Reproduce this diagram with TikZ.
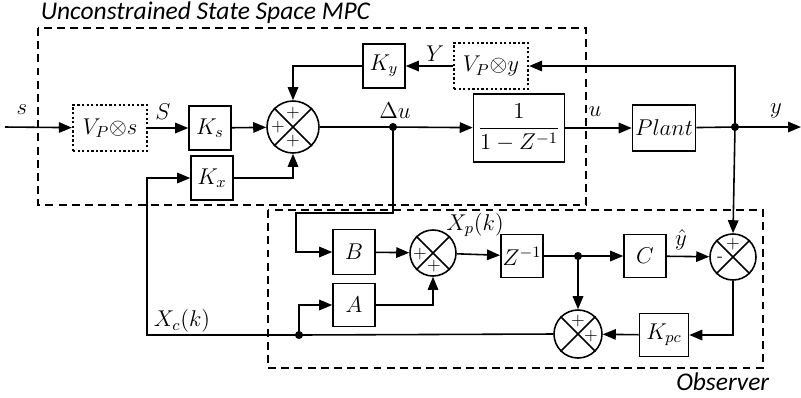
\documentclass[tikz,border=0pt]{standalone}
\usepackage{fix-cm}
\usepackage{amsmath}
\usepackage{fontspec}
\newfontfamily\titlefont{Carlito}
\usepackage{tikz}
\usetikzlibrary{arrows.meta}

\begin{document}
\begin{tikzpicture}[x=0.02cm,y=-0.02cm,>={Triangle[length=2.6mm,width=2.1mm]},
  line width=0.9pt,font=\fontsize{13}{15}\selectfont,
  blk/.style={draw,inner sep=1pt,minimum width=0.84cm,minimum height=0.88cm},
  dotbox/.style={blk,line width=1.3pt,dash pattern=on 1.3pt off 1.3pt,minimum width=1.48cm,minimum height=0.92cm},
  sumj/.style={draw,circle,inner sep=0pt,minimum size=0.92cm},
  sgn/.style={font=\fontsize{10}{10}\selectfont,inner sep=0pt},
  frame/.style={line width=1.1pt,dash pattern=on 4.5pt off 3pt}]
  \useasboundingbox (0,0) rectangle (801,397);
  % dashed frames
  \draw[frame] (38,28) rectangle (586,205);
  \draw[frame] (268,210) rectangle (763,368);
  \node[anchor=south west,inner sep=0pt,font=\titlefont\itshape\fontsize{14.5}{16}\selectfont] (ttl) at (40,24) {Unconstrained State Space MPC};
  \node[anchor=north east,inner sep=0pt,font=\titlefont\itshape\fontsize{14.5}{16}\selectfont] (obs) at (770,372) {Observer};
  % controller
  \coordinate (sin) at (5,127);
  \node[dotbox] (vps) at (110,128) {$V_P{\otimes}s$};
  \node[blk] (ks) at (210,128) {$K_s$};
  \node[sumj,minimum size=1.04cm] (s1) at (293,127) {};
  \node[blk] (ky) at (384,66) {$K_y$};
  \node[dotbox] (vpy) at (491,66) {$V_P{\otimes}y$};
  \node[blk] (kx) at (212,178) {$K_x$};
  \coordinate (du) at (393,127);
  \node[blk,minimum width=1.82cm,minimum height=1.36cm] (int) at (519,128) {$\dfrac{1}{1-Z^{-1}}$};
  \node[blk,minimum width=1.26cm,minimum height=0.92cm] (plant) at (664,128) {$Plant$};
  \coordinate (jy) at (735,127);
  \coordinate (yout) at (801,127);
  % observer
  \coordinate (dub) at (393,213);
  \coordinate (dul) at (296,213);
  \node[blk,minimum height=0.9cm] (b) at (354,252) {$B$};
  \node[blk,minimum height=0.86cm] (a) at (354,305) {$A$};
  \node[sumj] (s2) at (433,253) {};
  \node[blk,minimum width=0.82cm,minimum height=0.86cm] (zi) at (522,256) {$Z^{-1}$};
  \coordinate (jz) at (578,256);
  \node[blk,minimum height=0.86cm] (c) at (645,256) {$C$};
  \node[sumj] (s3) at (733,257) {};
  \node[blk,minimum width=0.98cm,minimum height=0.86cm] (kpc) at (664,335) {$K_{pc}$};
  \node[sumj,minimum size=0.96cm] (s4) at (578,334) {};
  \coordinate (jxc) at (299,335);
  \coordinate (xcl) at (147,335);
  \foreach \n in {s1,s2,s3,s4}
    \draw (\n.north west) -- (\n.south east) (\n.north east) -- (\n.south west);
  % signs
  \node[sgn] at ([shift={(0,-14)}]s1) {$+$};
  \node[sgn] at ([shift={(-15,0)}]s1) {$+$};
  \node[sgn] at ([shift={(0,14)}]s1) {$+$};
  \node[sgn] at ([shift={(-13,1)}]s2) {$+$};
  \node[sgn] at ([shift={(1,13)}]s2) {$+$};
  \node[sgn] at ([shift={(0,-13)}]s3) {$+$};
  \node[sgn] at ([shift={(-13,2)}]s3) {-};
  \node[sgn] at ([shift={(0,-13)}]s4) {$+$};
  \node[sgn] at ([shift={(13,2)}]s4) {$+$};
  % connectors
  \draw[->] (sin) -- (vps);
  \draw[->] (vps) -- (ks);
  \draw[->] (ks) -- (s1);
  \draw (s1) -- (du);
  \draw[->] (du) -- (int);
  \draw[->] (int) -- (plant);
  \draw (plant) -- (jy);
  \draw[->] (jy) -- (yout);
  \draw[->] (jy) |- (vpy.east);
  \draw[->] (vpy) -- (ky);
  \draw[->] (ky.west) -| (s1.north);
  \draw[->] (kx.east) -| (s1.south);
  \draw[->] (jy) -- (s3.north);
  \draw[->] (du) -- (dub) -- (dul) |- (b.west);
  \draw[->] (b) -- (s2);
  \draw[->] (a.east) -| (s2.south);
  \draw[->] (s2) -- (zi);
  \draw (zi) -- (jz);
  \draw[->] (jz) -- (c);
  \draw[->] (c) -- (s3);
  \draw[->] (jz) -- (s4.north);
  \draw[->] (s3.south) |- (kpc.east);
  \draw[->] (kpc) -- (s4);
  \draw[->] (s4.west) -- (jxc) -- (xcl) |- (kx.west);
  \draw[->] (jxc) |- (a.west);
  \foreach \p in {du,jy,jz,jxc}
    \fill (\p) circle (2.3pt);
  % signal labels
  \node (ls) at (22,110) {$s$};
  \node (lS) at (163,112) {$S$};
  \node (lY) at (435,54) {$Y$};
  \node (ldu) at (395,111) {$\Delta u$};
  \node (lu) at (595,112) {$u$};
  \node (ly) at (776,111) {$y$};
  \node (lxp) at (475,225) {$X_p(k)$};
  \node (lyh) at (681,240) {$\hat{y}$};
  \node (lxc) at (182,321) {$X_c(k)$};
\end{tikzpicture}
\end{document}
